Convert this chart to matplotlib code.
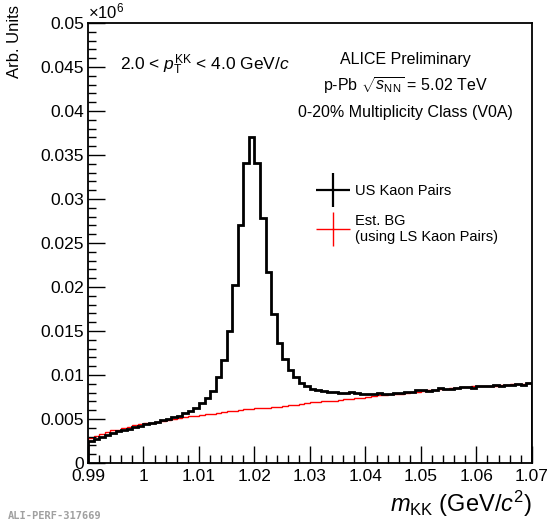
import numpy as np
import matplotlib.pyplot as plt
from matplotlib.lines import Line2D
from matplotlib.ticker import MultipleLocator, FixedLocator

plt.rcParams['font.family'] = ['Liberation Sans', 'DejaVu Sans']
plt.rcParams['mathtext.fontset'] = 'custom'
plt.rcParams['mathtext.rm'] = 'Liberation Sans'
plt.rcParams['mathtext.it'] = 'Liberation Sans:italic'
plt.rcParams['mathtext.bf'] = 'Liberation Sans:bold'

# binning: 80 bins of 1 MeV/c^2 between 0.99 and 1.07
m_lo, m_hi, nbins = 0.99, 1.07, 80

# unlike-sign K+K- pairs
us_pairs = [
    0.0025, 0.0027, 0.0030, 0.0032, 0.0034, 0.0036, 0.0037, 0.0039, 0.0041, 0.0042,
    0.0044, 0.0045, 0.0047, 0.0049, 0.0050, 0.0052, 0.0054, 0.0057, 0.0059, 0.0063,
    0.0068, 0.0074, 0.0082, 0.0098, 0.0117, 0.0150, 0.0202, 0.0270, 0.0341, 0.0370,
    0.0341, 0.0278, 0.0217, 0.0169, 0.0136, 0.0118, 0.0106, 0.0098, 0.0091, 0.0088,
    0.0084, 0.0083, 0.0082, 0.0081, 0.0081, 0.0080, 0.0080, 0.0081, 0.0080, 0.0079,
    0.0078, 0.0079, 0.0080, 0.0079, 0.0079, 0.0080, 0.0080, 0.0081, 0.0081, 0.0083,
    0.0083, 0.0082, 0.0083, 0.0085, 0.0084, 0.0084, 0.0085, 0.0086, 0.0086, 0.0085,
    0.0087, 0.0087, 0.0088, 0.0089, 0.0088, 0.0089, 0.0089, 0.0090, 0.0089, 0.0091,
]

# estimated background from like-sign pairs
bg_ls = [
    0.0029, 0.0031, 0.0033, 0.0035, 0.0037, 0.0038, 0.0040, 0.0041, 0.0043, 0.0044,
    0.0045, 0.0046, 0.0047, 0.0048, 0.0049, 0.0050, 0.0051, 0.0052, 0.0053, 0.0054,
    0.0055, 0.0056, 0.0056, 0.0057, 0.0058, 0.0059, 0.0059, 0.0060, 0.0061, 0.0061,
    0.0062, 0.0063, 0.0063, 0.0064, 0.0064, 0.0065, 0.0066, 0.0066, 0.0067, 0.0068,
    0.0069, 0.0069, 0.0070, 0.0071, 0.0071, 0.0072, 0.0073, 0.0073, 0.0074, 0.0074,
    0.0075, 0.0076, 0.0077, 0.0077, 0.0078, 0.0079, 0.0079, 0.0080, 0.0081, 0.0081,
    0.0082, 0.0083, 0.0083, 0.0084, 0.0084, 0.0085, 0.0085, 0.0086, 0.0086, 0.0087,
    0.0087, 0.0088, 0.0088, 0.0088, 0.0089, 0.0089, 0.0090, 0.0090, 0.0090, 0.0091,
]

x_ticks = [0.99, 1.0, 1.01, 1.02, 1.03, 1.04, 1.05, 1.06, 1.07]
x_labels = ['0.99', '1', '1.01', '1.02', '1.03', '1.04', '1.05', '1.06', '1.07']
y_ticks = [0, 0.005, 0.01, 0.015, 0.02, 0.025, 0.03, 0.035, 0.04, 0.045, 0.05]
y_labels = ['0', '0.005', '0.01', '0.015', '0.02', '0.025', '0.03', '0.035',
            '0.04', '0.045', '0.05']

edges = np.linspace(m_lo, m_hi, nbins + 1)

fig = plt.figure(figsize=(5.5, 5.25), dpi=100)
ax = fig.add_axes([0.16, 0.118, 0.807, 0.838])

ax.stairs(bg_ls, edges, color='red', lw=1.0)
ax.stairs(us_pairs, edges, color='black', lw=2.0)

ax.set_xlim(m_lo, m_hi)
ax.set_ylim(0, 0.05)
ax.xaxis.set_major_locator(FixedLocator(x_ticks))
ax.set_xticklabels(x_labels)
ax.xaxis.set_minor_locator(MultipleLocator(0.002))
ax.yaxis.set_major_locator(FixedLocator(y_ticks))
ax.set_yticklabels(y_labels)
ax.yaxis.set_minor_locator(MultipleLocator(0.001))
ax.tick_params(axis='both', which='both', direction='in', top=False, right=False,
               labelsize=12.5, width=1.0)
ax.tick_params(axis='both', which='major', length=12)
ax.tick_params(axis='both', which='minor', length=6)
ax.tick_params(axis='x', which='major', pad=4)
ax.tick_params(axis='y', which='major', pad=3)
for s in ax.spines.values():
    s.set_linewidth(1.3)

ax.text(0.0, 1.003, r'$\times10^{6}$', transform=ax.transAxes, fontsize=12,
        ha='left', va='bottom')
fig.text(0.027, 0.99, 'Arb. Units', rotation=90, ha='center', va='top', fontsize=12)
ax.set_xlabel(r'$m_{\mathrm{KK}}$ (GeV/$c^{2}$)', fontsize=17, loc='right')

ax.text(0.072, 0.905, r'2.0 < $p_{\mathrm{T}}^{\mathrm{KK}}$ < 4.0 GeV/$c$',
        transform=ax.transAxes, fontsize=12.5, ha='left', va='center')
ax.text(0.716, 0.918, 'ALICE Preliminary', transform=ax.transAxes, fontsize=11.5,
        ha='center', va='center')
ax.text(0.716, 0.857, r'p-Pb $\sqrt{s_{\mathrm{NN}}}$ = 5.02 TeV',
        transform=ax.transAxes, fontsize=11.5, ha='center', va='center')
ax.text(0.716, 0.797, '0-20% Multiplicity Class (V0A)', transform=ax.transAxes,
        fontsize=11.5, ha='center', va='center')

handles = [
    Line2D([], [], color='black', marker='+', markersize=24, markeredgewidth=1.6,
           linestyle='none'),
    Line2D([], [], color='red', marker='+', markersize=24, markeredgewidth=1.0,
           linestyle='none'),
]
ax.legend(handles, ['US Kaon Pairs', 'Est. BG\n(using LS Kaon Pairs)'],
          loc='upper left', bbox_to_anchor=(0.49, 0.665), frameon=False,
          fontsize=10.5, handlelength=2.0, handletextpad=0.5, labelspacing=1.1)

fig.text(0.014, 0.008, 'ALI-PERF-317669', family='DejaVu Sans Mono',
         fontweight='bold', fontsize=7.5, color='#a0a0a0', ha='left', va='bottom')

fig.savefig('out.png', dpi=100)
